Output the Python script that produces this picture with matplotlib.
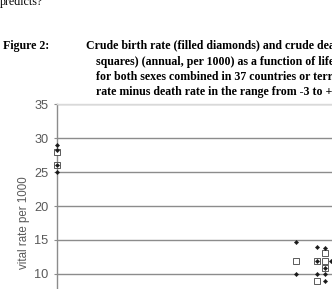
import matplotlib
matplotlib.use("Agg")
import matplotlib.pyplot as plt

# Data (life expectancy, rate per 1000)
birth_x = [40, 40, 40, 40, 74.2, 74.2, 77.2, 78.3, 77.2, 78.3, 77.2, 78.3, 78.3, 79.1]
birth_y = [29.0, 28.3, 26.1, 25.0, 14.7, 10.0, 13.9, 13.8, 11.9, 10.9, 10.0, 10.0, 9.0, 11.9]
death_x = [40, 40, 74.2, 78.3, 77.2, 78.3, 78.3, 77.2]
death_y = [27.9, 26.1, 11.9, 13.0, 11.9, 11.9, 10.9, 9.0]
yticks = [10, 15, 20, 25, 30, 35]

W, H = 332, 289
fig = plt.figure(figsize=(W / 100, H / 100), dpi=100)
fig.patch.set_facecolor("white")

def fx(px):
    return px / W

def fy(py):
    return 1 - py / H

# axes: left at pixel 57, y=35 at pixel 104.3, y=0 at pixel 341.6
left, right = 57, 372
top, bottom = 104.3, 341.6
ax = fig.add_axes([fx(left), fy(bottom), (right - left) / W, (bottom - top) / H])
ax.set_xlim(40, 85)
ax.set_ylim(0, 35)
ax.set_yticks(yticks)
ax.set_xticks([])
for s in ["right", "bottom"]:
    ax.spines[s].set_visible(False)
ax.spines["top"].set_color("#d9d9d9")
ax.spines["top"].set_linewidth(1.0)
ax.spines["left"].set_color("#8c8c8c")
ax.spines["left"].set_linewidth(1.0)
ax.yaxis.grid(True, color="#8c8c8c", linewidth=1.0)
ax.set_axisbelow(True)
ax.tick_params(axis="y", length=2.5, width=0.8, color="#8c8c8c", labelsize=9.2,
               labelcolor="#595959", pad=3.5)
for lab in ax.get_yticklabels():
    lab.set_fontfamily("Liberation Sans")
ax.set_ylabel("vital rate per 1000", fontsize=8.3, color="#595959",
              fontfamily="Liberation Sans", labelpad=3)

ax.plot(death_x, death_y, linestyle="none", marker="s", markersize=4.3,
        markerfacecolor="white", markeredgecolor="#404040", markeredgewidth=0.6,
        clip_on=False, zorder=3)
ax.plot(birth_x, birth_y, linestyle="none", marker="D", markersize=2.2,
        markerfacecolor="#1a1a1a", markeredgecolor="#1a1a1a", markeredgewidth=0.3,
        clip_on=False, zorder=4)

# page text
serif = "Liberation Serif"
fs = 8.6
fig.text(fx(0), fy(5.5), "predicts?", fontsize=fs, fontfamily=serif, va="baseline", ha="left")
fig.text(fx(3), fy(49.5), "Figure 2:", fontsize=fs, fontfamily=serif, fontweight="bold",
         va="baseline", ha="left")
lines = [
    (86, 49.5, "Crude birth rate (filled diamonds) and crude death rate (open"),
    (96, 64.5, "squares) (annual, per 1000) as a function of life expectancy"),
    (96, 79.5, "for both sexes combined in 37 countries or territories with birth"),
    (96, 94.5, "rate minus death rate in the range from -3 to +3 per 1000"),
]
for x, y, t in lines:
    fig.text(fx(x), fy(y), t, fontsize=fs, fontfamily=serif, fontweight="bold",
             va="baseline", ha="left")

fig.savefig("out.png", dpi=100, facecolor="white")
